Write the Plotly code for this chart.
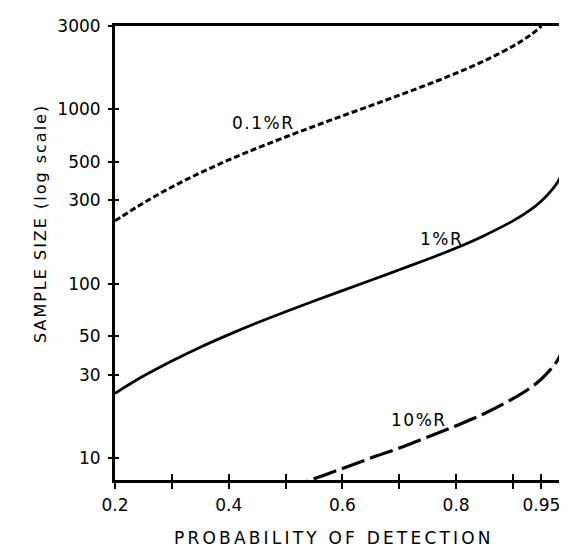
import math
import plotly.graph_objects as go

# ---- data ----
r01_p = [0.20, 0.25, 0.30, 0.35, 0.40, 0.45, 0.50, 0.55, 0.60, 0.65, 0.70, 0.75, 0.80, 0.85, 0.90, 0.93, 0.95]
r01_n = [229, 290, 358, 432, 512, 598, 693, 798, 916, 1049, 1203, 1386, 1609, 1896, 2300, 2650, 3000]

r1_p = [0.20, 0.25, 0.30, 0.35, 0.40, 0.45, 0.50, 0.55, 0.60, 0.65, 0.70, 0.75, 0.80, 0.85, 0.90, 0.93, 0.95, 0.97, 0.98, 0.99, 0.995]
r1_n = [23.5, 29.5, 36, 43.2, 51, 59.6, 69, 79.5, 91.2, 104.5, 120, 138, 160, 189, 229, 264, 298, 349, 389, 458, 527]

r10_p = [0.50, 0.55, 0.60, 0.65, 0.70, 0.75, 0.80, 0.85, 0.90, 0.93, 0.95, 0.97, 0.98, 0.99, 0.995]
r10_n = [6.6, 7.6, 8.7, 10.0, 11.4, 13.2, 15.3, 18.0, 21.9, 25.2, 28.4, 33.3, 37.1, 43.7, 50.3]

x_tickvals = [0.2, 0.3, 0.4, 0.5, 0.6, 0.7, 0.8, 0.9, 0.95]
x_ticktext = ["0.2", "", "0.4", "", "0.6", "", "0.8", "", "0.95"]
y_tickvals = [10, 30, 50, 100, 300, 500, 1000, 3000]
y_ticktext = ["10", "30", "50", "100", "300", "500", "1000", "3000"]

curve_labels = ["0.1%R", "1%R", "10%R"]
label_p = [0.462, 0.775, 0.735]
label_n = [830, 180, 16.6]

x_range = [0.2, 0.995]
y_min, y_max = 7.48, 3000

FONT = "DejaVu Sans"


def spaced(txt, px):
    return '<span style="letter-spacing:%spx">%s</span>' % (px, txt)


fig = go.Figure()
fig.add_trace(go.Scatter(x=r01_p, y=r01_n, mode="lines",
                         line=dict(color="black", width=3, dash="6px,3px", shape="spline")))
fig.add_trace(go.Scatter(x=r1_p, y=r1_n, mode="lines",
                         line=dict(color="black", width=2.8, shape="spline")))
fig.add_trace(go.Scatter(x=r10_p, y=r10_n, mode="lines",
                         line=dict(color="black", width=3.2, dash="24px,6px", shape="spline")))
# empty trace carrying the inner-tick overlay axes (ticks crossing the axis lines)
fig.add_trace(go.Scatter(x=[None], y=[None], xaxis="x2", yaxis="y2", mode="lines", hoverinfo="skip"))

for txt, px, py in zip(curve_labels, label_p, label_n):
    fig.add_annotation(x=px, y=math.log10(py), text=spaced(txt, 1.5), showarrow=False,
                       font=dict(family=FONT, size=17, color="black"))

fig.add_annotation(xref="paper", yref="paper", x=0.485, y=-0.127, text=spaced("PROBABILITY OF DETECTION", 3.2),
                   showarrow=False, font=dict(family=FONT, size=17, color="black"), yanchor="middle")
fig.add_annotation(xref="paper", yref="paper", x=0, xshift=-86, y=0.565, text=spaced("SAMPLE SIZE (log scale)", 2),
                   textangle=-90, showarrow=False, font=dict(family=FONT, size=16, color="black"))

axis_common = dict(showgrid=False, zeroline=False, color="black")
fig.update_layout(
    width=567, height=550,
    margin=dict(l=107, r=5, t=18, b=78),
    paper_bgcolor="white", plot_bgcolor="white",
    showlegend=False,
    font=dict(family=FONT, size=17, color="black"),
    xaxis=dict(range=x_range, tickmode="array", tickvals=x_tickvals, ticktext=x_ticktext,
               ticks="outside", ticklen=6, tickwidth=2, showline=True, linewidth=3,
               linecolor="black", mirror=True, ticklabelstandoff=2,
               tickfont=dict(family=FONT, size=17), **axis_common),
    yaxis=dict(type="log", range=[math.log10(y_min), math.log10(y_max)], tickmode="array",
               tickvals=y_tickvals, ticktext=y_ticktext, ticks="outside", ticklen=4, tickwidth=2,
               showline=True, linewidth=3, linecolor="black", mirror=True, ticklabelstandoff=4,
               tickfont=dict(family=FONT, size=17), **axis_common),
    xaxis2=dict(overlaying="x", anchor="y2", side="bottom", range=x_range, tickmode="array",
                tickvals=x_tickvals[1:], ticks="inside", ticklen=6, tickwidth=2,
                showticklabels=False, showline=False, **axis_common),
    yaxis2=dict(overlaying="y", anchor="x2", side="left", type="log",
                range=[math.log10(y_min), math.log10(y_max)], tickmode="array",
                tickvals=y_tickvals, ticks="inside", ticklen=4, tickwidth=2,
                showticklabels=False, showline=False, **axis_common),
)

fig.write_html("out.html")
